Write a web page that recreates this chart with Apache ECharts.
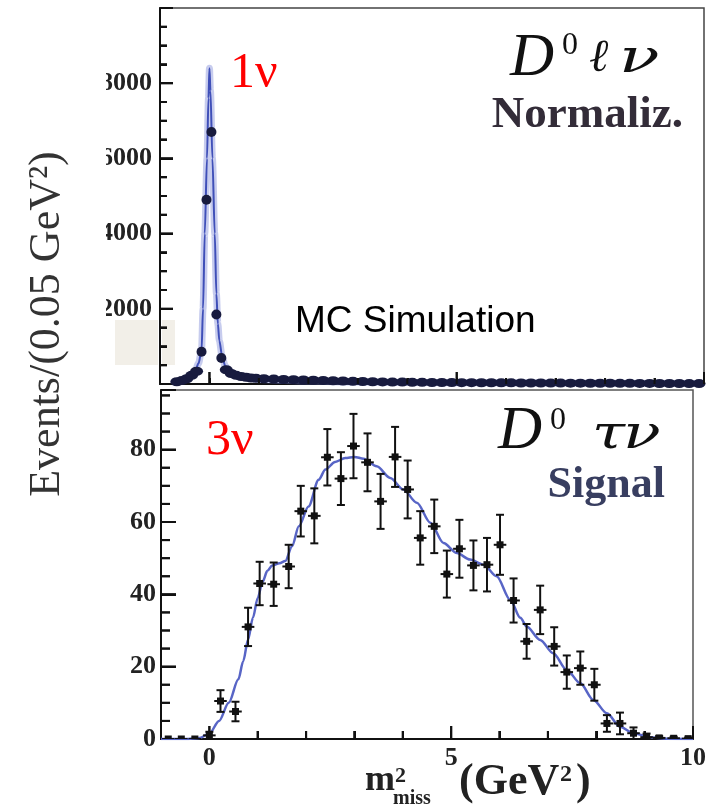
<!DOCTYPE html>
<html>
<head>
<meta charset="utf-8">
<script src="https://cdn.jsdelivr.net/npm/echarts@6.0.0/dist/echarts.min.js"></script>
<style>
  html, body { margin: 0; padding: 0; background: #fff; }
  #chart { width: 710px; height: 806px; }
</style>
</head>
<body>
<div id="chart"></div>
<script>
// top panel: D0 l nu normalisation (MC), peak at m2miss = 0
var topPointX = [-0.66,-0.56,-0.46,-0.36,-0.26,-0.16,-0.06,0.04,0.14,0.24,0.34,0.44,0.54,0.64,0.74,0.84,0.94,
  1.1,1.3,1.5,1.7,1.9,2.1,2.3,2.5,2.7,2.9,3.1,3.3,3.5,3.7,3.9,4.1,4.3,4.5,4.7,4.9,5.1,5.3,5.5,5.7,5.9,
  6.1,6.3,6.5,6.7,6.9,7.1,7.3,7.5,7.7,7.9,8.1,8.3,8.5,8.7,8.9,9.1,9.3,9.5,9.7,9.9];
var topPointY = [60,90,140,230,340,860,4900,6700,1850,690,380,280,230,200,180,160,150,
  140,130,120,115,105,100,95,85,80,70,65,60,55,50,50,45,45,40,40,38,36,35,33,32,30,
  30,28,27,26,25,24,23,22,21,20,19,18,17,16,15,14,13,12,11,10];
var topFitX = [-0.66,-0.5,-0.4,-0.3,-0.22,-0.16,-0.13,-0.095,-0.05,-0.02,0,0.02,0.06,0.107,0.14,0.17,0.2,0.26,0.32,0.4,0.5,0.7,1,1.5,2,3,5,7,10];
var topFitY = [60,110,170,300,550,900,2000,4000,6000,7600,8400,7800,6000,4000,2400,1600,1150,700,480,340,250,170,120,90,70,50,35,25,15];

// bottom panel: D0 tau nu signal
var sigX = [-0.85,-0.58,-0.3,0.0,0.23,0.54,0.8,1.04,1.33,1.64,1.89,2.17,2.44,2.72,2.98,3.27,3.54,3.84,4.1,4.36,4.65,4.91,
  5.17,5.46,5.74,6.01,6.29,6.56,6.84,7.13,7.39,7.67,7.96,8.22,8.49,8.77,9.04,9.3,9.6,9.9];
var sigY = [0,0,0,1,10.5,7.6,31,43,42.8,47.7,63,61.7,77.9,72,81,76.5,65.7,78,69,55.6,58.8,45.6,
  52.6,48,48.2,53.7,38.3,27,35.7,25.6,18.5,19.6,15,4.3,4.3,1.6,0.5,0.3,0.2,0.1];
var sigErr = [0,0,0,1,3,2.7,5.3,6,6,6,7,7.6,7.8,7.3,8.9,8,7.6,8.3,8,7.4,7.4,6.5,
  8,6.9,7.4,8.3,6.1,4.8,6.7,5.3,4.6,4.6,4.4,2.3,3,1.6,1,0.5,0.4,0.3];
var binHalf = 0.13;
var sigFitX = [-1,-0.5,-0.2,0,0.2,0.4,0.6,0.7,0.8,0.9,1.0,1.1,1.2,1.3,1.45,1.57,1.71,1.85,2.05,2.26,2.4,2.6,2.81,3.0,3.19,3.46,3.74,4.01,4.29,4.57,4.84,
  5.12,5.39,5.67,5.94,6.22,6.43,6.56,6.84,7.11,7.39,7.67,7.94,8.22,8.49,8.77,9.11,9.46,10];
var sigFitY = [0,0,0.3,1.5,5,10,16.5,21.5,27.5,33.5,39,43.5,46.5,48,48.6,49.2,53.3,58.8,64.3,71.7,74.5,76.6,77.7,78,77.5,75.4,72.2,69,65.3,59.8,54.2,
  51.4,49.6,48.2,45,38.5,33.5,31.1,27.4,23.7,19.1,15.4,10.8,7.1,3.4,1.6,0.5,0.1,0];

// tick values
var xMajor = [0, 5, 10];
var xMinor = [1, 2, 3, 4, 6, 7, 8, 9];
var topYMajor = [2000, 4000, 6000, 8000];
var topYMinor = [500,1000,1500,2500,3000,3500,4500,5000,5500,6500,7000,7500,8500,9000,9500];
var botYMajor = [20, 40, 60, 80];
var botYMinor = [5,10,15,25,30,35,45,50,55,65,70,75,85,90,95];

function pairs(xs, ys) { return xs.map(function (x, i) { return [x, ys[i]]; }); }

var chart = echarts.init(document.getElementById('chart'));
var lblFont = { fontFamily: 'Liberation Serif', fontWeight: 'bold', fontSize: 26, color: '#222' };
var axLine = { show: true, onZero: false, lineStyle: { color: '#111', width: 2 } };
var tickLine = { color: '#111', width: 2 };

// inside ticks as a custom series (same drawing path as the error bars)
function tickSeries(grid, vals, horiz, len) {
  return {
    type: 'custom', xAxisIndex: grid, yAxisIndex: grid, clip: true, z: 6,
    data: vals.map(function (v) { return horiz ? [-1, v, 0] : [v, 0, 0]; }),
    renderItem: function (params, api) {
      var p = api.coord([api.value(0), api.value(1)]);
      var shape = horiz ? { x1: p[0], y1: p[1], x2: p[0] + len, y2: p[1] }
                        : { x1: p[0], y1: p[1], x2: p[0], y2: p[1] - len };
      return { type: 'group', children: [{ type: 'line', shape: shape, style: { stroke: '#111', lineWidth: 2 } }] };
    }
  };
}

var texts = [
  // pale patch left of the top panel's lower corner, with the axis showing through
  { type: 'rect', shape: { x: 115, y: 320, width: 43, height: 45 }, style: { fill: '#f2efe8' } },
  { type: 'rect', shape: { x: 162, y: 320, width: 13, height: 45 }, style: { fill: '#f2efe8' } },
  { type: 'rect', z: 100, shape: { x: 78, y: 60, width: 28, height: 270 }, style: { fill: '#fff' } },
  { type: 'text', z: 100, rotation: Math.PI / 2, x: 47, y: 324,
    style: { text: 'Events/(0.05 GeV\u00b2)', font: '44px "Liberation Serif"', fill: '#333', align: 'center', verticalAlign: 'middle' } },
  { type: 'text', z: 100, style: { x: 230, y: 74, text: '1\u03bd', font: '50px "Liberation Serif"', fill: '#ff0000', align: 'left', verticalAlign: 'middle' } },
  { type: 'text', z: 100, style: { x: 206, y: 441, text: '3\u03bd', font: '50px "Liberation Serif"', fill: '#ff0000', align: 'left', verticalAlign: 'middle' } },
  { type: 'text', z: 100, style: { x: 295, y: 322, text: 'MC Simulation', font: '37px "Liberation Sans"', fill: '#000', align: 'left', verticalAlign: 'middle' } },
  { type: 'text', z: 100, style: { x: 510, y: 59, text: 'D', font: 'italic 61px "Liberation Serif"', fill: '#111', align: 'left', verticalAlign: 'middle' } },
  { type: 'text', z: 100, style: { x: 562, y: 46, text: '0', font: '32px "Liberation Serif"', fill: '#111', align: 'left', verticalAlign: 'middle' } },
  { type: 'text', z: 100, style: { x: 589, y: 59, text: '\u2113', font: 'italic 46px "DejaVu Serif"', fill: '#111', align: 'left', verticalAlign: 'middle' } },
  { type: 'text', z: 100, scaleX: 1.45, originX: 619, originY: 60,
    style: { x: 619, y: 60, text: '\u03bd', font: 'italic 46px "DejaVu Serif"', fill: '#111', align: 'left', verticalAlign: 'middle' } },
  { type: 'text', z: 100, style: { x: 683, y: 115, text: 'Normaliz.', font: 'bold 45px "Liberation Serif"', fill: '#332c38', align: 'right', verticalAlign: 'middle',
    shadowColor: 'rgba(225,140,60,0.55)', shadowOffsetX: -1.5, shadowBlur: 1 } },
  { type: 'text', z: 100, style: { x: 498, y: 432, text: 'D', font: 'italic 61px "Liberation Serif"', fill: '#111', align: 'left', verticalAlign: 'middle' } },
  { type: 'text', z: 100, style: { x: 550, y: 421, text: '0', font: '32px "Liberation Serif"', fill: '#111', align: 'left', verticalAlign: 'middle' } },
  { type: 'text', z: 100, scaleX: 1.3, originX: 592, originY: 436,
    style: { x: 592, y: 436, text: '\u03c4', font: 'italic 46px "DejaVu Serif"', fill: '#111', align: 'left', verticalAlign: 'middle' } },
  { type: 'text', z: 100, scaleX: 1.35, originX: 623, originY: 436,
    style: { x: 623, y: 436, text: '\u03bd', font: 'italic 46px "DejaVu Serif"', fill: '#111', align: 'left', verticalAlign: 'middle' } },
  { type: 'text', z: 100, style: { x: 665, y: 486, text: 'Signal', font: 'bold 44px "Liberation Serif"', fill: '#383e60', align: 'right', verticalAlign: 'middle',
    shadowColor: 'rgba(225,140,60,0.55)', shadowOffsetX: -1.5, shadowBlur: 1 } },
  { type: 'text', z: 100, style: { x: 365, y: 781, text: 'm', font: 'bold 36px "Liberation Serif"', fill: '#222', align: 'left', verticalAlign: 'middle' } },
  { type: 'text', z: 100, style: { x: 395, y: 776, text: '2', font: 'bold 22px "Liberation Serif"', fill: '#222', align: 'left', verticalAlign: 'middle' } },
  { type: 'text', z: 100, style: { x: 393, y: 799, text: 'miss', font: 'bold 20px "Liberation Serif"', fill: '#222', align: 'left', verticalAlign: 'middle' } },
  { type: 'text', z: 100, style: { x: 459, y: 783, text: '(GeV', font: 'bold 44px "Liberation Serif"', fill: '#222', align: 'left', verticalAlign: 'middle' } },
  { type: 'text', z: 100, style: { x: 560, y: 775, text: '2', font: 'bold 24px "Liberation Serif"', fill: '#222', align: 'left', verticalAlign: 'middle' } },
  { type: 'text', z: 100, style: { x: 576, y: 783, text: ')', font: 'bold 44px "Liberation Serif"', fill: '#222', align: 'left', verticalAlign: 'middle' } }
];

var option = {
  animation: false,
  backgroundColor: '#fff',
  grid: [
    { left: 160, top: 8, width: 544, height: 376, show: true, borderColor: '#444', borderWidth: 1.5 },
    { left: 161, top: 390, width: 532, height: 349, show: true, borderColor: '#555', borderWidth: 1.5 }
  ],
  xAxis: [
    { gridIndex: 0, type: 'value', min: -1, max: 10, interval: 1, position: 'bottom', axisLine: axLine,
      axisTick: { show: true, inside: true, length: 6, lineStyle: tickLine },
      axisLabel: { show: false }, splitLine: { show: false } },
    { gridIndex: 1, type: 'value', min: -1, max: 10, interval: 1, position: 'bottom', axisLine: axLine,
      axisTick: { show: true, inside: true, length: 8, lineStyle: tickLine },
      axisLabel: Object.assign({ margin: 6, formatter: function (v) { return v % 5 === 0 && v >= 0 ? String(v) : ''; } }, lblFont),
      splitLine: { show: false } }
  ],
  yAxis: [
    { gridIndex: 0, type: 'value', min: 0, max: 10000, interval: 2000, position: 'left', axisLine: axLine,
      axisTick: { show: true, inside: true, length: 13, lineStyle: tickLine },
      minorTick: { show: true, splitNumber: 4, length: 7, lineStyle: tickLine },
      axisLabel: Object.assign({ margin: 8, formatter: function (v) { return (v > 0 && v < 10000) ? String(v) : ''; } }, lblFont),
      splitLine: { show: false }, minorSplitLine: { show: false } },
    { gridIndex: 1, type: 'value', min: 0, max: 96.5, interval: 20, position: 'left', axisLine: axLine,
      axisTick: { show: true, inside: true, length: 15, lineStyle: tickLine },
      axisLabel: Object.assign({ margin: 5, formatter: function (v) { return v % 20 === 0 ? String(v) : ''; } }, lblFont),
      splitLine: { show: false } }
  ],
  series: [
    { type: 'line', xAxisIndex: 0, yAxisIndex: 0, data: pairs(topFitX, topFitY),
      showSymbol: false, smooth: 0.3, smoothMonotone: 'x', lineStyle: { color: 'rgba(95,110,205,0.35)', width: 7 } },
    { type: 'line', xAxisIndex: 0, yAxisIndex: 0, data: pairs(topFitX, topFitY),
      showSymbol: false, smooth: 0.3, smoothMonotone: 'x', lineStyle: { color: '#3f4fb8', width: 2 } },
    { type: 'scatter', xAxisIndex: 0, yAxisIndex: 0, data: pairs(topPointX, topPointY), z: 6,
      symbol: 'circle', symbolSize: function (v) { return v[1] > 500 ? 10 : [13, 9]; },
      itemStyle: { color: '#181b3e', opacity: 1 } },
    { type: 'line', xAxisIndex: 1, yAxisIndex: 1, data: pairs(sigFitX, sigFitY),
      showSymbol: false, smooth: 0.3, smoothMonotone: 'x', lineStyle: { color: '#5865c6', width: 2.5 } },
    {
      type: 'custom', xAxisIndex: 1, yAxisIndex: 1, clip: true, z: 6,
      data: sigX.map(function (x, i) { return [x, sigY[i], sigErr[i]]; }),
      renderItem: function (params, api) {
        var x = api.value(0), y = api.value(1), e = api.value(2);
        var p = api.coord([x, y]);
        var l = api.coord([x - binHalf, y]);
        var r = api.coord([x + binHalf, y]);
        var st = { stroke: '#111', lineWidth: 2 };
        var kids = [{ type: 'line', shape: { x1: l[0], y1: p[1], x2: r[0], y2: p[1] }, style: st }];
        if (e > 0) {
          var t = api.coord([x, y + e]);
          var b = api.coord([x, Math.max(0, y - e)]);
          kids.push({ type: 'line', shape: { x1: p[0], y1: t[1], x2: p[0], y2: b[1] }, style: st });
          kids.push({ type: 'line', shape: { x1: p[0] - 4, y1: t[1], x2: p[0] + 4, y2: t[1] }, style: st });
          kids.push({ type: 'line', shape: { x1: p[0] - 4, y1: b[1], x2: p[0] + 4, y2: b[1] }, style: st });
        }
        kids.push({ type: 'rect', shape: { x: p[0] - 3.5, y: p[1] - 3.5, width: 7, height: 7 }, style: { fill: '#111' } });
        return { type: 'group', children: kids };
      }
    },
    tickSeries(0, xMajor, false, 12),
    tickSeries(0, topYMajor, true, 13),
    tickSeries(0, topYMinor, true, 7),
    tickSeries(1, xMajor, false, 13),
    tickSeries(1, xMinor, false, 8),
    tickSeries(1, botYMajor, true, 15),
    tickSeries(1, botYMinor, true, 9)
  ],
  graphic: texts
};
chart.setOption(option);

// the same ticks once more as plain shapes, placed through each grid's scales
var tickEls = [];
function addTicks(grid, vals, horiz, len) {
  vals.forEach(function (v) {
    var p = chart.convertToPixel({ gridIndex: grid }, horiz ? [-1, v] : [v, 0]);
    tickEls.push({
      type: 'rect', z: 100,
      shape: horiz ? { x: p[0], y: p[1] - 1, width: len, height: 2 } : { x: p[0] - 1, y: p[1] - len, width: 2, height: len },
      style: { fill: '#111' }
    });
  });
}
addTicks(0, xMajor, false, 12);
addTicks(0, xMinor, false, 6);
addTicks(0, topYMajor, true, 13);
addTicks(0, topYMinor, true, 7);
addTicks(1, xMajor, false, 13);
addTicks(1, xMinor, false, 8);
addTicks(1, botYMajor, true, 15);
addTicks(1, botYMinor, true, 9);
chart.setOption({ graphic: texts.concat(tickEls) });
</script>
</body>
</html>
